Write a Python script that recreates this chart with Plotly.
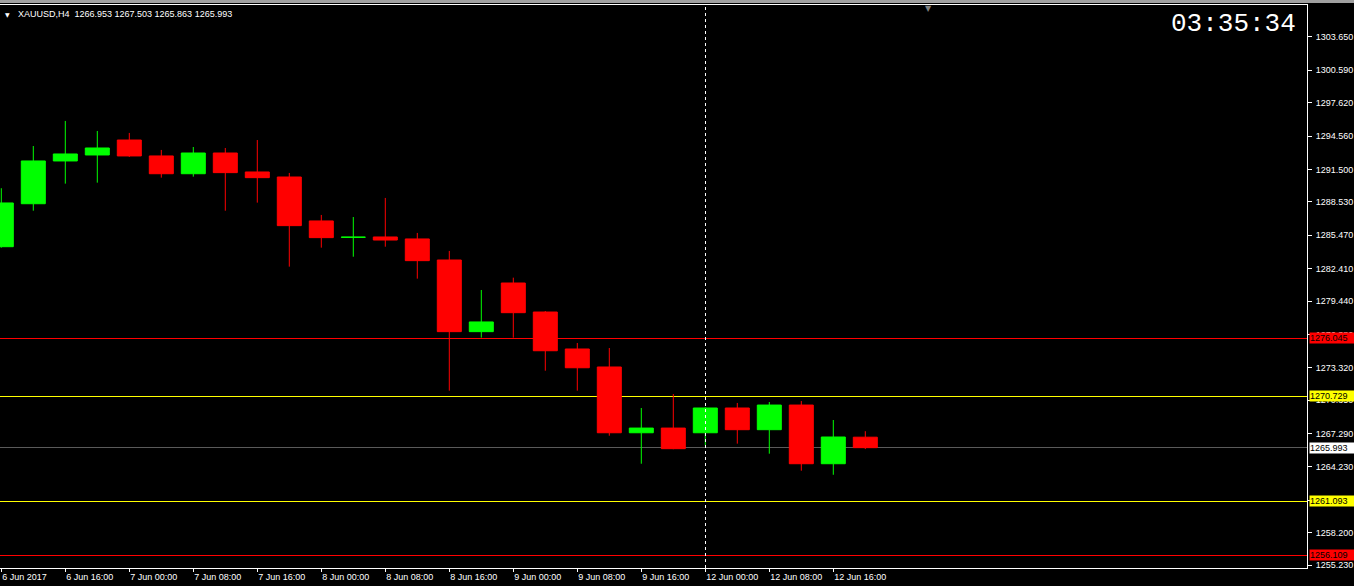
import plotly.graph_objects as go

# ---------------- data ----------------
bar_index = list(range(28))
opens = [1284.42, 1288.36, 1292.28, 1292.83, 1294.20, 1292.74, 1291.11, 1293.01, 1291.27, 1290.81,
         1286.78, 1285.28, 1285.31, 1285.13, 1283.20, 1276.63, 1281.09, 1278.43, 1275.04, 1273.39,
         1267.36, 1267.79, 1267.36, 1269.63, 1267.64, 1269.90, 1264.52, 1266.953]
highs = [1289.78, 1293.65, 1295.95, 1295.03, 1294.85, 1293.29, 1293.56, 1293.47, 1294.20, 1291.18,
         1287.33, 1287.14, 1288.89, 1285.68, 1284.03, 1280.45, 1281.58, 1278.52, 1275.59, 1275.13,
         1269.63, 1270.91, 1269.70, 1270.09, 1270.18, 1270.27, 1268.53, 1267.503]
lows = [1284.33, 1287.72, 1290.20, 1290.29, 1292.65, 1290.75, 1290.84, 1287.72, 1288.46, 1282.59,
        1284.33, 1283.50, 1284.42, 1281.49, 1271.22, 1276.08, 1276.08, 1273.05, 1271.22, 1267.09,
        1264.52, 1265.85, 1266.21, 1266.36, 1265.44, 1263.88, 1263.51, 1265.863]
closes = [1288.43, 1292.28, 1292.92, 1293.47, 1292.74, 1291.11, 1293.01, 1291.21, 1290.75, 1286.35,
          1285.25, 1285.29, 1285.03, 1283.14, 1276.63, 1277.52, 1278.37, 1274.88, 1273.32, 1267.36,
          1267.79, 1265.90, 1269.63, 1267.64, 1269.90, 1264.52, 1266.97, 1265.993]

tick_idx = [0, 2, 4, 6, 8, 10, 12, 14, 16, 18, 20, 22, 24, 26]
tick_labels = ["6 Jun 2017", "6 Jun 16:00", "7 Jun 00:00", "7 Jun 08:00", "7 Jun 16:00",
               "8 Jun 00:00", "8 Jun 08:00", "8 Jun 16:00", "9 Jun 00:00", "9 Jun 08:00",
               "9 Jun 16:00", "12 Jun 00:00", "12 Jun 08:00", "12 Jun 16:00"]

price_ticks = [1303.650, 1300.590, 1297.620, 1294.560, 1291.500, 1288.530, 1285.470, 1282.410,
               1279.440, 1276.380, 1273.320, 1270.350, 1267.290, 1264.230, 1261.170, 1258.200, 1255.230]

level_values = [1276.045, 1270.729, 1265.993, 1261.093, 1256.109]
level_line_colors = ["#ff0000", "#ffff00", "#5a5a5a", "#ffff00", "#ff0000"]
level_box_colors = ["#ff0000", "#ffff00", "#ffffff", "#ffff00", "#ff0000"]

crosshair_idx = 22
symbol_title = "XAUUSD,H4\u00a0\u00a01266.953 1267.503 1265.863 1265.993"
clock_text = "03:35:34"

# ---------------- figure ----------------
W, H = 1354, 586
L, R, T, B = 0, 47, 5, 18
plot_w = W - L - R
plot_h = H - T - B

fig = go.Figure()
fig.add_trace(go.Candlestick(
    x=bar_index, open=opens, high=highs, low=lows, close=closes,
    increasing=dict(line=dict(color="#00ff00", width=1), fillcolor="#00ff00"),
    decreasing=dict(line=dict(color="#ff0000", width=1), fillcolor="#ff0000"),
    whiskerwidth=0, hoverinfo="skip",
))

shapes = []
for v, c in zip(level_values, level_line_colors):
    shapes.append(dict(type="line", xref="paper", x0=0, x1=1, yref="y", y0=v, y1=v,
                       line=dict(color=c, width=1), layer="below"))
shapes.append(dict(type="line", xref="x", x0=crosshair_idx, x1=crosshair_idx, yref="paper", y0=0, y1=1,
                   line=dict(color="#ffffff", width=1, dash="3px,3px")))
# window frame strip at top
shapes.append(dict(type="rect", xref="paper", x0=-0.01, x1=W / plot_w + 0.01, yref="paper",
                   y0=1 + 2.5 / plot_h, y1=1 + 6 / plot_h, fillcolor="#a0a0a0", line=dict(width=0)))

annotations = []
for v, c in zip(level_values, level_box_colors):
    annotations.append(dict(xref="paper", x=1, xshift=2, xanchor="left", yref="y", y=v, yanchor="middle",
                            text=f"{v:.3f}", showarrow=False, bgcolor=c, borderpad=0, width=45,
                            align="left", font=dict(family="Liberation Sans", size=9, color="#000000")))

annotations.append(dict(xref="paper", x=1298 / plot_w, xanchor="right", yref="paper",
                        y=1 - (24.5 - T) / plot_h, yanchor="middle", text=clock_text, showarrow=False,
                        font=dict(family="Liberation Mono", size=26, color="#ffffff")))
annotations.append(dict(xref="paper", x=16 / plot_w, xanchor="left", yref="paper",
                        y=1 - (14 - T) / plot_h, yanchor="middle", text=symbol_title, showarrow=False,
                        font=dict(family="Liberation Sans", size=9, color="#ffffff")))
annotations.append(dict(xref="paper", x=7.5 / plot_w, xanchor="center", yref="paper",
                        y=1 - (14 - T) / plot_h, yanchor="middle", text="▼", showarrow=False,
                        font=dict(family="DejaVu Sans", size=6, color="#ffffff")))
annotations.append(dict(xref="paper", x=928 / plot_w, xanchor="center", yref="paper",
                        y=1 - (8.5 - T) / plot_h, yanchor="middle", text="▼", showarrow=False,
                        font=dict(family="DejaVu Sans", size=8, color="#808080")))

fig.update_layout(
    width=W, height=H,
    margin=dict(l=L, r=R, t=T, b=B, pad=0),
    paper_bgcolor="#000000", plot_bgcolor="#000000",
    showlegend=False, boxgap=0.25, boxgroupgap=0,
    shapes=shapes, annotations=annotations,
    xaxis=dict(range=[-1.3 / 32, (plot_w - 1.3) / 32], rangeslider=dict(visible=False),
               tickmode="array", tickvals=tick_idx, ticktext=tick_labels,
               ticks="outside", ticklen=3, tickcolor="#ffffff", tickwidth=1,
               showline=True, linecolor="#ffffff", linewidth=1, mirror=True,
               showgrid=False, zeroline=False, automargin=False,
               ticklabelposition="outside right",
               tickfont=dict(family="Liberation Sans", size=9, color="#ffffff")),
    yaxis=dict(side="right", range=[1254.96, 1306.58],
               tickmode="array", tickvals=price_ticks, tickformat=".3f",
               ticks="outside", ticklen=4, tickcolor="#ffffff", tickwidth=1,
               showline=True, linecolor="#ffffff", linewidth=1,
               showgrid=False, zeroline=False, automargin=False, ticklabelstandoff=2,
               tickfont=dict(family="Liberation Sans", size=9, color="#ffffff")),
)

post = (
    "document.body.style.margin='0px';document.body.style.background='#000';"
    "document.querySelectorAll('.shapelayer path').forEach(function(p){p.style.shapeRendering='crispEdges';});"
)
fig.write_html("out.html", config={"displayModeBar": False}, post_script=post)
